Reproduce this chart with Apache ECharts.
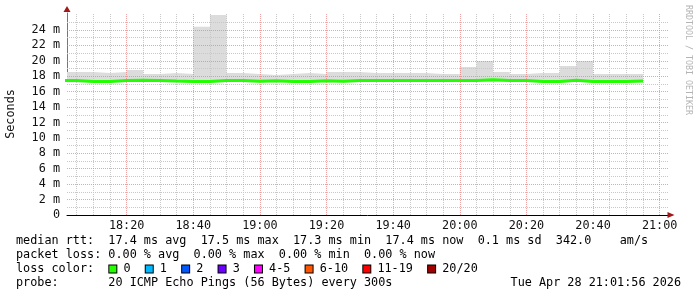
<!DOCTYPE html>
<html><head><meta charset="utf-8">
<script src="https://cdn.jsdelivr.net/npm/echarts@6/dist/echarts.min.js"></script>
<style>html,body{margin:0;padding:0;background:#fff}#c{width:697px;height:297px}</style>
</head><body><div id="c"></div><script>
// 5-minute slot start times
const slotStarts = ['18:00','18:05','18:10','18:15','18:20','18:25','18:30','18:35','18:40','18:45',
  '18:50','18:55','19:00','19:05','19:10','19:15','19:20','19:25','19:30','19:35',
  '19:40','19:45','19:50','19:55','20:00','20:05','20:10','20:15','20:20','20:25',
  '20:30','20:35','20:40','20:45','20:50'];
// median rtt (ms)
const medianRtt = [17.43,17.30,17.30,17.43,17.47,17.45,17.37,17.32,17.32,17.45,
  17.45,17.34,17.40,17.33,17.33,17.40,17.34,17.44,17.45,17.45,
  17.45,17.45,17.45,17.45,17.45,17.54,17.44,17.44,17.33,17.33,
  17.48,17.32,17.32,17.32,17.38];
// smoke band upper edge (ms)
const smokeHigh = [18.55,18.55,18.42,18.55,18.81,18.29,18.42,18.29,24.43,25.95,
  18.42,18.29,18.16,18.29,18.42,18.29,18.55,18.55,18.42,18.42,
  18.42,18.42,18.29,18.29,19.20,19.98,18.55,18.29,18.42,18.42,
  19.31,19.98,18.29,18.29,18.29];
// smoke band lower edge (ms)
const smokeLow = [17.20,17.18,17.18,17.25,17.30,17.25,17.20,17.18,17.18,17.25,
  17.25,17.15,17.20,17.18,17.20,17.20,17.15,17.25,17.25,17.28,
  17.28,17.28,17.28,17.28,17.28,17.30,17.28,17.25,17.18,17.18,
  17.25,17.15,17.18,17.18,17.20];
const xTickLabels = ['18:20','18:40','19:00','19:20','19:40','20:00','20:20','20:40','21:00'];
const yTickValues = [0,2,4,6,8,10,12,14,16,18,20,22,24];
const yTickLabels = ['0','2 m','4 m','6 m','8 m','10 m','12 m','14 m','16 m','18 m','20 m','22 m','24 m'];
const lossLabels = ['0','1','2','3','4-5','6-10','11-19','20/20'];
const lossColors = ['#26ff00','#00b8ff','#0059ff','#6e00ff','#ff00ff','#ff5500','#ff0000','#a10000'];
const statsLine1 = 'median rtt:  17.4 ms avg  17.5 ms max  17.3 ms min  17.4 ms now  0.1 ms sd  342.0    am/s';
const statsLine2 = 'packet loss: 0.00 % avg  0.00 % max  0.00 % min  0.00 % now';
const probeLine = 'probe:       20 ICMP Echo Pings (56 Bytes) every 300s';
const dateLine = 'Tue Apr 28 21:01:56 2026';

const toMin = s => { const p = s.split(':').map(Number); return (p[0]-18)*60 + p[1]; };
const stepData = arr => {
  const d = slotStarts.map((s,i)=>[toMin(s), arr[i]]);
  d.push([toMin(slotStarts[slotStarts.length-1]) + 5, arr[arr.length-1]]);
  return d;
};
const xMin = 2.1, xMax = 182.5, yMax = 26.2;
const xTickMin = xTickLabels.map(toMin);

const minorCol = '#c8c8c8', majorCol = 'rgba(235,130,130,0.75)';
const gridLines = [];
for (let m = 5; m <= 180; m += 5) {
  const major = m % 20 === 0;
  gridLines.push({xAxis: m, lineStyle: {color: major ? majorCol : minorCol, type: [1,1], width: 1}});
}
for (let v = 1; v <= 25; v += 1) {
  const major = v % 2 === 0;
  gridLines.push({yAxis: v, lineStyle: {color: major ? majorCol : minorCol, type: [1,1], width: 1}});
}

const FONT = '"DejaVu Sans Mono", monospace';
const rich = { s: {width: 1} };
lossColors.forEach((c,i)=>{ rich['b'+i] = {width: 7, height: 7, backgroundColor: c, borderColor: '#000', borderWidth: 1}; });
const lossText = 'loss color:' + lossLabels.map((l,i)=>'  {s|}{b'+i+'|} ' + l).join('');

const chart = echarts.init(document.getElementById('c'), null, {renderer: 'canvas'});
chart.setOption({
  animation: false,
  backgroundColor: '#fff',
  grid: {left: 67, top: 13, width: 601, height: 202, containLabel: false, outerBoundsMode: 'none'},
  xAxis: {
    type: 'value', min: xMin, max: xMax,
    splitLine: {show: false},
    axisLine: {show: true, lineStyle: {color: '#000', width: 1}},
    axisTick: {show: false},
    axisLabel: {
      customValues: xTickMin, margin: 5, color: '#111',
      fontFamily: FONT, fontSize: 11.8,
      formatter: v => { const i = xTickMin.indexOf(Math.round(v)); return i >= 0 ? xTickLabels[i] : ''; }
    }
  },
  yAxis: {
    type: 'value', min: 0, max: yMax,
    name: 'Seconds', nameLocation: 'middle', nameGap: 50, nameRotate: 90, nameMoveOverlap: false,
    nameTextStyle: {fontFamily: FONT, fontSize: 11.8, color: '#111'},
    splitLine: {show: false},
    axisLine: {show: true, lineStyle: {color: '#777', width: 1}},
    axisTick: {show: false},
    axisLabel: {
      customValues: yTickValues, margin: 7, color: '#111',
      fontFamily: FONT, fontSize: 11.8,
      formatter: v => { const i = yTickValues.indexOf(Math.round(v)); return i >= 0 ? yTickLabels[i] : ''; }
    }
  },
  series: [
    {
      name: 'smokeHigh', type: 'line', step: 'end', symbol: 'none', silent: true, z: 1,
      lineStyle: {width: 0, opacity: 0}, areaStyle: {color: '#dcdcdc', opacity: 1},
      data: stepData(smokeHigh)
    },
    {
      name: 'smokeLow', type: 'line', step: 'end', symbol: 'none', silent: true, z: 2,
      lineStyle: {width: 0, opacity: 0}, areaStyle: {color: '#ffffff', opacity: 1},
      data: stepData(smokeLow),
      markLine: {silent: true, symbol: ['none','none'], label: {show: false}, z: 3, animation: false,
        emphasis: {disabled: true}, data: gridLines},
      markPoint: {silent: true, animation: false, label: {show: false}, z: 6,
        data: [
          {coord: [xMax, 0], symbol: 'triangle', symbolSize: [6,7], symbolRotate: -90, symbolOffset: [3,0], itemStyle: {color: '#a01818'}},
          {coord: [xMin, yMax], symbol: 'triangle', symbolSize: [7,6], symbolOffset: [0,-4], itemStyle: {color: '#a01818'}}
        ]}
    },
    {
      name: 'median', type: 'line', step: 'end', symbol: 'none', silent: true, z: 10,
      lineStyle: {color: '#22ff00', width: 3}, data: stepData(medianRtt)
    }
  ],
  graphic: [
    {type: 'text', x: 16, y: 241, silent: true, style: {text: statsLine1, font: '11.8px ' + FONT, fill: '#000', verticalAlign: 'middle'}},
    {type: 'text', x: 16, y: 255, silent: true, style: {text: statsLine2, font: '11.8px ' + FONT, fill: '#000', verticalAlign: 'middle'}},
    {type: 'text', x: 16, y: 269, silent: true, style: {text: lossText, rich: rich, font: '11.8px ' + FONT, fill: '#000', verticalAlign: 'middle'}},
    {type: 'text', x: 16, y: 283, silent: true, style: {text: probeLine, font: '11.8px ' + FONT, fill: '#000', verticalAlign: 'middle'}},
    {type: 'text', x: 681, y: 283, silent: true, style: {text: dateLine, font: '11.8px ' + FONT, fill: '#000', align: 'right', verticalAlign: 'middle'}},
    {type: 'text', x: 688, y: 5, rotation: -Math.PI/2, silent: true, style: {text: 'RRDTOOL / TOBI OETIKER', font: '8.3px ' + FONT, fill: '#b4b4b4', align: 'left', verticalAlign: 'middle'}}
  ]
});
</script></body></html>
